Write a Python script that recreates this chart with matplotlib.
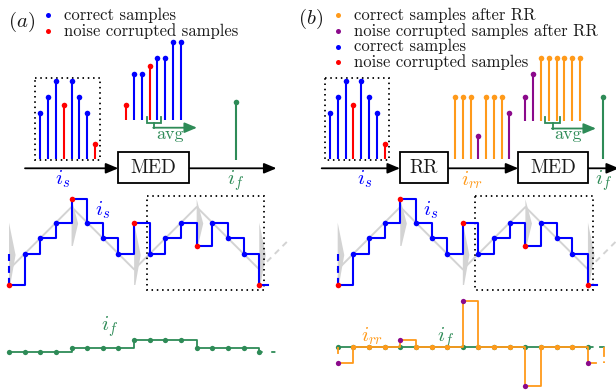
import matplotlib
matplotlib.use("Agg")
import matplotlib.pyplot as plt
import matplotlib.transforms as mtransforms
from matplotlib.patches import Rectangle, Polygon

plt.rcParams['mathtext.fontset'] = 'cm'
plt.rcParams['lines.scale_dashes'] = False
plt.rcParams['font.family'] = ['cmr10', 'DejaVu Serif']

BLUE = '#0000ff'
RED = '#ff0000'
ORANGE = '#ff9a1a'
PURPLE = '#8b0a8b'
GREEN = '#2e8b57'
GRAY = '#d3d3d3'
TXT = '#1a1a1a'

# stem samples (window of 8 samples), values in units of one staircase step
samples_is = [3, 4, 5, 3.5, 5, 4, 3, 1]
noisy_is = [0, 0, 0, 1, 0, 0, 0, 1]
samples_is_sorted = [1, 3, 3, 3.5, 4, 4, 5, 5]
noisy_is_sorted = [1, 0, 0, 1, 0, 0, 0, 0]
samples_rr = [4, 4, 4, 1.5, 4, 4, 4, 3]
noisy_rr = [0, 0, 0, 1, 0, 0, 0, 1]
samples_rr_sorted = [1.5, 3, 4, 4, 4, 4, 4, 4]
noisy_rr_sorted = [1, 1, 0, 0, 0, 0, 0, 0]
if_med = 3.75
if_med_rr = 4

# sampled waveforms
k_wave = [0, 1, 2, 3, 4, 5, 6, 7, 8, 9, 10, 11, 12, 13, 14, 15, 16]
is_wave = [0, 2, 3, 4, 5.5, 4, 3, 2, 4, 2, 3, 4, 2.5, 4, 3, 2, 0]
noisy_wave = [1, 0, 0, 0, 1, 0, 0, 0, 1, 0, 0, 0, 1, 0, 0, 0, 1]
if_wave = [0, 0, 0, 0, 0.25, 0.25, 0.25, 0.25, 0.75, 0.75, 0.75, 0.75,
           0.25, 0.25, 0.25, 0.25, 0]
rr_wave = [-1, 0, 0, 0, 0.5, 0, 0, 0, 3, 0, 0, 0, -2.5, 0, 0, 0, -1]
if_rr_wave = [0, 0, 0, 0, 0, 0, 0, 0, 0, 0, 0, 0, 0, 0, 0, 0, 0]

# underlying triangle current and noise spikes
tri_k = [0, 4, 8, 12, 16]
tri_v = [1, 5, 1, 5, 1]
spike_lo = [0, 2.5, 0, 2.5, 0]
spike_hi = [4, 5.5, 4, 5.5, 4]

UNIT = 15.6

fig = plt.figure(figsize=(6.16, 3.91), dpi=100)
ax = fig.add_axes([0, 0, 1, 1])
ax.set_xlim(0, 616)
ax.set_ylim(391, 0)
ax.axis('off')


def frame(x0, y0, sx, sy=UNIT):
    return mtransforms.Affine2D().scale(sx, -sy).translate(x0, y0) + ax.transData


def stems(vals, noisy, x0, y0, dx, c_ok, c_bad):
    T = frame(x0, y0, dx)
    for i, (v, n) in enumerate(zip(vals, noisy)):
        c = c_bad if n else c_ok
        ax.plot([i, i], [0, v], color=c, lw=1.5, transform=T,
                solid_capstyle='butt', zorder=3)
        ax.plot([i], [v], 'o', color=c, ms=4, mec='none', transform=T, zorder=4)


def arrow(x1, x2, y, color='k', lw=1.3):
    ax.annotate('', xy=(x2, y), xytext=(x1, y), annotation_clip=False,
                arrowprops=dict(arrowstyle='-|>,head_length=0.62,head_width=0.26',
                                color=color, lw=lw, shrinkA=0, shrinkB=0,
                                mutation_scale=12))


def avg_bracket(xa, xb, ytop, yb, yarr, xend):
    ax.plot([xa, xa, xb, xb], [ytop, yb, yb, ytop], color=GREEN, lw=1.3,
            solid_joinstyle='miter')
    xm = (xa + xb) / 2
    ax.plot([xm, xm], [yb, yarr], color=GREEN, lw=1.3)
    arrow(xm - 0.6, xend, yarr, GREEN, 1.3)


def dotted_box(x, y, w, h):
    ax.add_patch(Rectangle((x, y), w, h, fill=False, ec='k', lw=1.3,
                           ls=(0, (1.1, 2.7)), zorder=2))


def block(x, y, w, h, label):
    ax.add_patch(Rectangle((x, y), w, h, fc='white', ec='k', lw=1.3, zorder=5))
    ax.text(x + w / 2, y + h / 2 + 0.5, label, ha='center', va='center',
            fontsize=14, color=TXT, zorder=6)


def legend(x, y0, items):
    for j, (c, lab) in enumerate(items):
        y = y0 + j * 15.8
        ax.plot([x], [y], 'o', color=c, ms=3.6, mec='none')
        ax.text(x + 15.5, y, lab, ha='left', va='center', fontsize=12, color=TXT)


def lower_wave(x0, dx):
    T = frame(x0, 285, dx)
    # gray triangle with spikes
    ax.plot(tri_k, tri_v, color=GRAY, lw=1.4, transform=T, zorder=1)
    ax.plot([16, 17.8], [1, 2.8], color=GRAY, lw=1.4, ls=(0, (4.3, 3.6)),
            transform=T, zorder=1)
    for k, lo, hi in zip(tri_k, spike_lo, spike_hi):
        ax.add_patch(Polygon([(k, hi), (k + 0.42, lo + 0.48 * (hi - lo)),
                              (k + 0.08, lo), (k, lo)], closed=True,
                             fc=GRAY, ec='none', transform=T, zorder=1))
    # sampled current i_s
    ax.step(k_wave, is_wave, where='post', color=BLUE, lw=1.5, transform=T,
            zorder=3)
    ax.plot([16, 16.55], [0, 0], color=BLUE, lw=1.5, transform=T, zorder=3)
    ax.plot([0, 0], [2, 0], color=BLUE, lw=1.5, ls=(0, (5, 3.6)), transform=T,
            zorder=3)
    for k, v, n in zip(k_wave, is_wave, noisy_wave):
        ax.plot([k], [v], 'o', color=RED if n else BLUE, ms=4, mec='none',
                transform=T, zorder=4)


# ---------------- panel (a) ----------------
ax.text(22, 21.5, r'$(a)$', ha='center', va='center', fontsize=15, color=TXT)
legend(48.3, 15, [(BLUE, 'correct samples'), (RED, 'noise corrupted samples')])

dotted_box(34.7, 77.7, 65.3, 82.3)
stems(samples_is, noisy_is, 40.3, 159.3, 7.81, BLUE, RED)
stems(samples_is_sorted, noisy_is_sorted, 126, 120.3, 7.86, BLUE, RED)
stems([if_med], [0], 236, 160, 1, GREEN, GREEN)
avg_bracket(146.7, 161, 116.7, 123, 127.7, 197)
ax.text(170, 134, 'avg', ha='center', va='center', fontsize=13, color=GREEN)

arrow(25, 118.3, 168.3)
block(118.3, 151.7, 71, 31.6, 'MED')
arrow(189.3, 276.5, 168.3)
ax.text(63, 179, r'$i_s$', ha='center', va='center', fontsize=15, color=BLUE)
ax.text(235.5, 181, r'$i_f$', ha='center', va='center', fontsize=15, color=GREEN)

lower_wave(9, 15.64)
dotted_box(146.7, 195.7, 117.6, 94.3)
ax.text(103, 210, r'$i_s$', ha='center', va='center', fontsize=15, color=BLUE)

Tf = frame(9, 351.7, 15.64)
ax.step(k_wave, if_wave, where='post', color=GREEN, lw=1.3, transform=Tf, zorder=3)
ax.plot([16, 17.05], [0, 0], color=GREEN, lw=1.3, ls=(0, (2.6, 6.2, 3, 20)),
        transform=Tf, zorder=3)
ax.plot(k_wave, if_wave, 'o', color=GREEN, ms=3.8, mec='none', transform=Tf, zorder=4)
ax.text(110, 327, r'$i_f$', ha='center', va='center', fontsize=15, color=GREEN)

# ---------------- panel (b) ----------------
ax.text(311, 18.5, r'$(b)$', ha='center', va='center', fontsize=15, color=TXT)
legend(338.3, 15, [(ORANGE, 'correct samples after RR'),
                   (PURPLE, 'noise corrupted samples after RR'),
                   (BLUE, 'correct samples'),
                   (RED, 'noise corrupted samples')])

dotted_box(325, 77.7, 64.3, 82.3)
stems(samples_is, noisy_is, 330, 159.3, 7.81, BLUE, RED)
stems(samples_rr, noisy_rr, 455, 159.3, 7.76, ORANGE, PURPLE)
stems(samples_rr_sorted, noisy_rr_sorted, 525.3, 120.7, 7.8, ORANGE, PURPLE)
stems([if_med_rr], [0], 603.3, 159.3, 1, GREEN, GREEN)
avg_bracket(545, 560, 116.7, 122.7, 128.5, 596)
ax.text(568.3, 134, 'avg', ha='center', va='center', fontsize=13, color=GREEN)

arrow(321.7, 400, 168.3)
block(400, 151.7, 47.7, 31.6, 'RR')
arrow(447.7, 518.3, 168.3)
block(518.3, 151.7, 70, 31.6, 'MED')
arrow(588.3, 619, 168.3)
ax.text(365, 179, r'$i_s$', ha='center', va='center', fontsize=15, color=BLUE)
ax.text(472, 180, r'$i_{rr}$', ha='center', va='center', fontsize=15, color=ORANGE)
ax.text(604, 181, r'$i_f$', ha='center', va='center', fontsize=15, color=GREEN)

lower_wave(337.7, 15.64)
dotted_box(475, 195.7, 117.7, 94.3)
ax.text(430.7, 210, r'$i_s$', ha='center', va='center', fontsize=15, color=BLUE)

Tr = frame(337.7, 347.3, 15.64)
ax.plot(k_wave, if_rr_wave, color=GREEN, lw=1.3, transform=Tr, zorder=3)
ax.plot([16, 17.1], [0, 0], color=GREEN, lw=1.3, ls=(0, (4, 4)), transform=Tr, zorder=3)
ax.plot(k_wave, if_rr_wave, 'o', color=GREEN, ms=3.8, mec='none', transform=Tr, zorder=4)
ax.step(k_wave, rr_wave, where='post', color=ORANGE, lw=1.3, transform=Tr, zorder=5)
ax.plot([16, 16.5], [-1, -1], color=ORANGE, lw=1.3, transform=Tr, zorder=5)
ax.plot([17.03, 17.03], [-1, 0], color=ORANGE, lw=1.3, ls=(0, (1.2, 3.2, 20, 1)),
        transform=Tr, zorder=5)
ax.plot([0, 0], [0, -1], color=ORANGE, lw=1.3, ls=(0, (5, 20)), transform=Tr, zorder=5)
for k, v, n in zip(k_wave, rr_wave, noisy_wave):
    ax.plot([k], [v], 'o', color=PURPLE if n else ORANGE, ms=3.8, mec='none',
            transform=Tr, zorder=6)
ax.text(372.5, 336, r'$i_{rr}$', ha='center', va='center', fontsize=15, color=ORANGE)
ax.text(445.7, 338, r'$i_f$', ha='center', va='center', fontsize=15, color=GREEN)

ax.set_xlim(0, 616)
ax.set_ylim(391, 0)
fig.savefig('out.png', dpi=100)
